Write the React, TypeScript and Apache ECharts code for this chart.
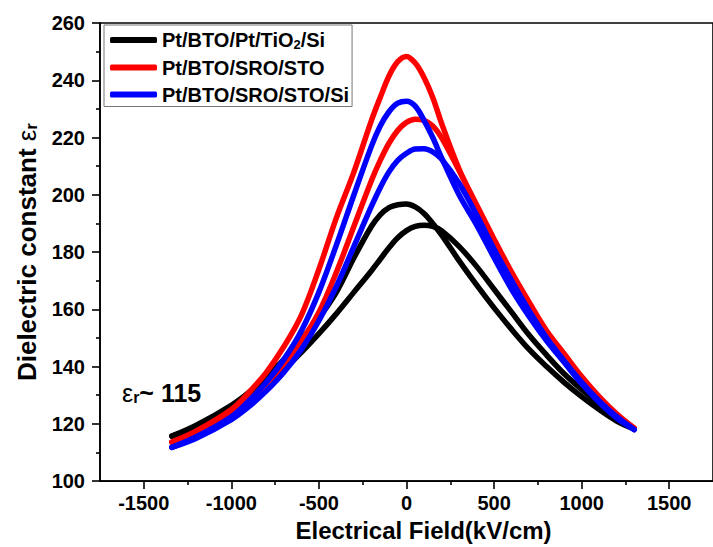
import React, { useEffect, useRef } from "react";
import * as echarts from "echarts";

// Electric field sample positions (kV/cm)
const X = [-1340, -1200, -1000, -900, -800, -700, -600, -500, -400, -300, -200, -150, -100, -50, 0, 50, 100, 150, 200, 300, 400, 500, 600, 700, 800, 900, 1000, 1100, 1200, 1300];

// Pt/BTO/Pt/TiO2/Si — two sweep branches
const blackUp = [115.7, 119.5, 126.5, 131, 136.5, 142.5, 149.5, 157, 166, 178, 189, 193, 195.5, 196.5, 196.8, 195.8, 193.5, 190, 186, 177, 168.5, 160.5, 153, 146, 140, 134.5, 129.5, 125, 121, 118.2];
const blackDown = [115.7, 119, 125.5, 129.5, 134, 139, 145, 151.5, 158.5, 166, 173.5, 177.5, 181.5, 185, 187.5, 189, 189.4, 189, 187.5, 182, 175, 167, 159, 151, 144, 137.5, 132, 127, 122.5, 118.2];

// Pt/BTO/SRO/STO
const redUp = [113.6, 117.5, 125, 131, 138, 147, 158, 174, 192, 208, 226, 234, 241.5, 246.5, 248.3, 246, 241, 234, 225, 209, 196, 184, 172.5, 162, 152, 144, 136, 129, 123, 118.5];
const redDown = [113.6, 117, 123.5, 128.5, 134, 141, 149, 159, 173, 189, 205, 212, 218, 222.5, 225.3, 226.4, 226, 224, 220, 208.5, 196.5, 184.5, 173, 162.5, 152.5, 144.5, 136.5, 129.5, 123.5, 118.5];

// Pt/BTO/SRO/STO/Si
const blueUp = [111.8, 115.5, 122.5, 128, 134.5, 142.5, 152.5, 166, 182.5, 200, 217, 224, 229, 232, 232.7, 231, 226, 220, 213, 200, 189.5, 178, 167, 157.5, 149, 141.5, 134, 127.5, 122, 118];
const blueDown = [111.8, 115, 121.5, 126, 131.5, 138, 146, 156, 168, 182, 196, 202.5, 208, 212, 214.5, 216, 216.1, 215, 212.5, 204, 193, 181, 170, 159.5, 150, 142, 134.5, 128, 122.5, 118];

const names = ["Pt/BTO/Pt/TiO2/Si", "Pt/BTO/SRO/STO", "Pt/BTO/SRO/STO/Si"];
const colors = ["#000000", "#ff0000", "#0000ff"];
const xMajorTicks = [-1500, -1000, -500, 0, 500, 1000, 1500];
const xMinorTicks = [-1250, -750, -250, 250, 750, 1250];

const FONT = "Liberation Sans";

export default function App() {
  const ref = useRef<HTMLDivElement>(null);
  useEffect(() => {
    if (!ref.current) return;
    const chart = echarts.init(ref.current, null, { renderer: "svg" });
    const branches = [
      [blackUp, 0], [blackDown, 0],
      [redUp, 1], [redDown, 1],
      [blueUp, 2], [blueDown, 2],
    ] as [number[], number][];
    const series = branches.map(([vals, k]) => ({
      type: "line",
      name: names[k],
      xAxisIndex: 0,
      yAxisIndex: 0,
      data: X.map((x, i) => [x, vals[i]]),
      smooth: 0.35,
      showSymbol: false,
      symbol: "none",
      itemStyle: { color: colors[k] },
      lineStyle: { color: colors[k], width: 5.5, cap: "round", join: "round" },
      silent: true,
    }));
    const axisLine = { show: true, onZero: false, lineStyle: { color: "#000", width: 1.6 } };
    chart.setOption({
      animation: false,
      backgroundColor: "#fff",
      grid: { left: 100, right: -6, top: 23, bottom: 65, show: true, borderColor: "#000", borderWidth: 1.6 },
      legend: {
        data: names,
        orient: "vertical",
        left: 104,
        top: 25,
        padding: [5, 3, 2, 6],
        itemGap: 7,
        itemWidth: 47,
        itemHeight: 6,
        icon: "roundRect",
        borderColor: "#777",
        borderWidth: 1,
        formatter: (n: string) => (n === "Pt/BTO/Pt/TiO2/Si" ? "Pt/BTO/Pt/TiO{sub|2}/Si" : n),
        textStyle: {
          fontFamily: FONT,
          fontSize: 20,
          fontWeight: "bold",
          color: "#000",
          rich: {
            sub: { fontFamily: FONT, fontSize: 13, fontWeight: "bold", color: "#000", verticalAlign: "bottom", padding: [8, 0, 0, 0] },
          },
        },
      },
      xAxis: [
        {
          type: "value",
          min: -1750,
          max: 1750,
          position: "bottom",
          axisLine,
          axisTick: { show: true, customValues: xMajorTicks, length: 8, inside: false, lineStyle: { color: "#000", width: 1.6 } },
          axisLabel: {
            customValues: xMajorTicks,
            formatter: (v: number) => String(v),
            fontFamily: FONT,
            fontSize: 20,
            fontWeight: "bold",
            color: "#000",
            margin: 12,
          },
          splitLine: { show: false },
          name: "Electrical Field(kV/cm)",
          nameLocation: "middle",
          nameGap: 33,
          nameTextStyle: { fontFamily: FONT, fontSize: 24, fontWeight: "bold", color: "#000", padding: [0, 0, 0, 34] },
        },
        {
          type: "value",
          min: -1750,
          max: 1750,
          position: "bottom",
          axisLine: { show: false, onZero: false },
          axisTick: { show: true, customValues: xMinorTicks, length: 4, inside: false, lineStyle: { color: "#000", width: 1.6 } },
          axisLabel: { show: false },
          splitLine: { show: false },
        },
      ],
      yAxis: {
        type: "value",
        min: 100,
        max: 260,
        interval: 20,
        axisLine,
        axisTick: { show: true, length: 8, inside: false, lineStyle: { color: "#000", width: 1.6 } },
        minorTick: { show: true, splitNumber: 2, length: 4, lineStyle: { color: "#000", width: 1.6 } },
        axisLabel: { fontFamily: FONT, fontSize: 20, fontWeight: "bold", color: "#000", margin: 15 },
        splitLine: { show: false },
        minorSplitLine: { show: false },
        name: "Dielectric constant {e|ε}{sub|r}",
        nameLocation: "middle",
        nameGap: 60,
        nameTextStyle: {
          fontFamily: FONT,
          fontSize: 26,
          fontWeight: "bold",
          color: "#000",
          rich: {
            e: { fontFamily: FONT, fontSize: 26, fontWeight: "normal", color: "#000" },
            sub: { fontFamily: FONT, fontSize: 17, fontWeight: "bold", color: "#000", verticalAlign: "bottom", padding: [10, 0, 0, 0] },
          },
        },
      },
      graphic: [
        {
          type: "text",
          left: 122,
          top: 380,
          style: {
            text: "{e|ε}{s|r}{n|~ 115}",
            rich: {
              e: { fontFamily: FONT, fontSize: 25, fontWeight: "normal", fill: "#000" },
              s: { fontFamily: FONT, fontSize: 16, fontWeight: "bold", fill: "#000", verticalAlign: "bottom", padding: [10, 0, 0, 0] },
              n: { fontFamily: FONT, fontSize: 25, fontWeight: "bold", fill: "#000" },
            },
          },
        },
      ],
      series,
    });
    return () => chart.dispose();
  }, []);
  return <div ref={ref} style={{ position: "fixed", left: 0, top: 0, width: 713, height: 547 }} />;
}
